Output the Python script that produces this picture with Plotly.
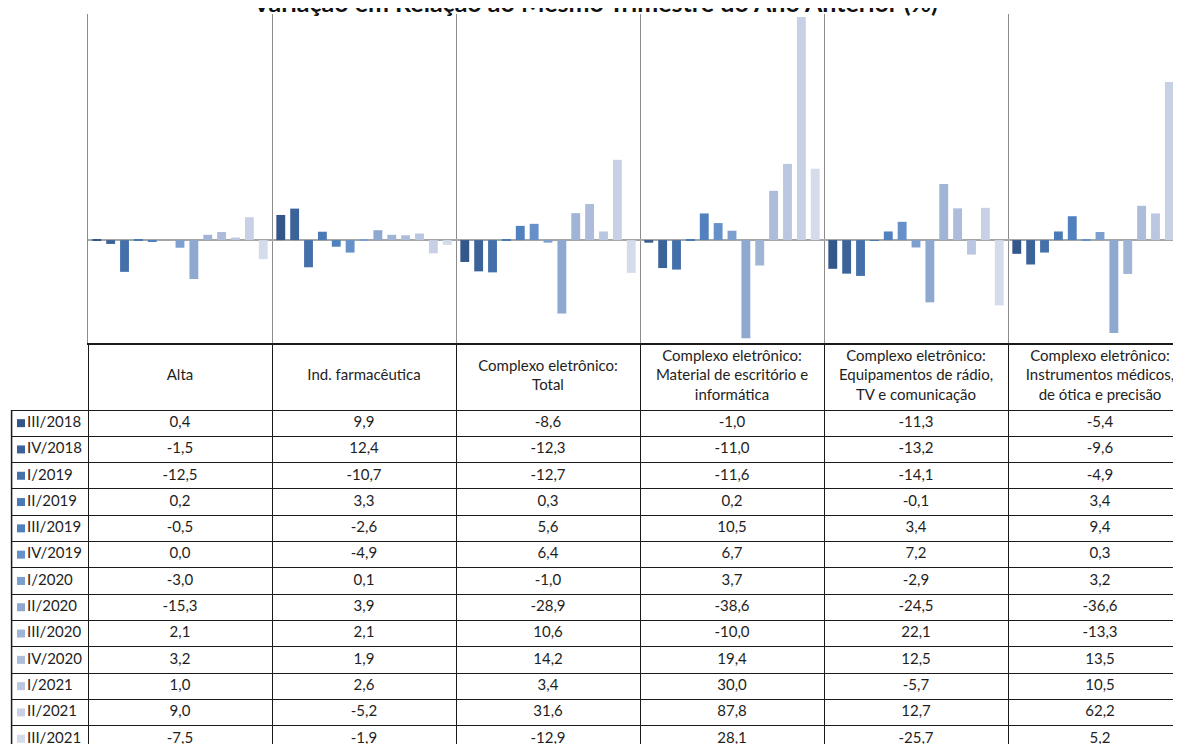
import plotly.graph_objects as go

# categorias (colunas da tabela)
setores = ['Alta', 'Ind. farmacêutica', 'Complexo eletrônico:<br>Total',
           'Complexo eletrônico:<br>Material de escritório e<br>informática',
           'Complexo eletrônico:<br>Equipamentos de rádio,<br>TV e comunicação',
           'Complexo eletrônico:<br>Instrumentos médicos,<br>de ótica e precisão']

trimestres = ['III/2018', 'IV/2018', 'I/2019', 'II/2019', 'III/2019', 'IV/2019',
              'I/2020', 'II/2020', 'III/2020', 'IV/2020', 'I/2021', 'II/2021', 'III/2021']

# variação (%) por trimestre, uma lista por linha da tabela
v_III_2018 = [0.4, 9.9, -8.6, -1.0, -11.3, -5.4]
v_IV_2018 = [-1.5, 12.4, -12.3, -11.0, -13.2, -9.6]
v_I_2019 = [-12.5, -10.7, -12.7, -11.6, -14.1, -4.9]
v_II_2019 = [0.2, 3.3, 0.3, 0.2, -0.1, 3.4]
v_III_2019 = [-0.5, -2.6, 5.6, 10.5, 3.4, 9.4]
v_IV_2019 = [0.0, -4.9, 6.4, 6.7, 7.2, 0.3]
v_I_2020 = [-3.0, 0.1, -1.0, 3.7, -2.9, 3.2]
v_II_2020 = [-15.3, 3.9, -28.9, -38.6, -24.5, -36.6]
v_III_2020 = [2.1, 2.1, 10.6, -10.0, 22.1, -13.3]
v_IV_2020 = [3.2, 1.9, 14.2, 19.4, 12.5, 13.5]
v_I_2021 = [1.0, 2.6, 3.4, 30.0, -5.7, 10.5]
v_II_2021 = [9.0, -5.2, 31.6, 87.8, 12.7, 62.2]
v_III_2021 = [-7.5, -1.9, -12.9, 28.1, -25.7, 5.2]

valores = [v_III_2018, v_IV_2018, v_I_2019, v_II_2019, v_III_2019, v_IV_2019,
           v_I_2020, v_II_2020, v_III_2020, v_IV_2020, v_I_2021, v_II_2021, v_III_2021]

cores = ['#34578a', '#3b6399', '#4571ab', '#4a7ab6', '#5080bd', '#6690c8',
         '#7c9fcf', '#8da9d0', '#a0b4d6', '#aebcdb', '#bbc6e0', '#c7d0e5', '#d4dbea']

W, H = 1181, 744
OFF = 8            # margem padrão do <body> na página
X_PLOT = 88 - OFF  # borda esquerda da área do gráfico (px)
X_TAB = 11 - OFF   # borda esquerda da coluna de legenda (px)
COL = 184          # largura de cada coluna (px)
Y_TOP, Y_MID = 14 - OFF, 343 - OFF   # topo do gráfico, topo da tabela (px)
HDR, ROW = 67, 26.3      # altura do cabeçalho e das linhas (px)

fonte = 'Lato'
fs = 15
x_max = -0.5 + (W - X_PLOT) / COL
x_min_tab = -0.5 - (X_PLOT - X_TAB) / COL
y_hdr = -0.5 - HDR / ROW
y_bot = -0.5 + (H - Y_MID - HDR) / ROW
x_leg = -0.5 - (X_PLOT - (21 - OFF)) / COL

fig = go.Figure()

cat_idx = list(range(len(setores)))
for nome, vals, cor in zip(trimestres, valores, cores):
    fig.add_trace(go.Bar(x=cat_idx, y=vals, name=nome, marker_color=cor,
                         marker_line_width=0, showlegend=False,
                         xaxis='x', yaxis='y', hoverinfo='skip'))

# tabela: valores
tx, ty, tt = [], [], []
for i, vals in enumerate(valores):
    for j, v in enumerate(vals):
        tx.append(j)
        ty.append(i)
        tt.append(f'{v:.1f}'.replace('.', ','))
fig.add_trace(go.Scatter(x=tx, y=ty, text=tt, mode='text', xaxis='x2', yaxis='y2',
                         textfont=dict(family=fonte, size=fs, color='#1e1e1e'),
                         showlegend=False, hoverinfo='skip'))

# tabela: cabeçalho
fig.add_trace(go.Scatter(x=cat_idx, y=[(y_hdr - 0.5) / 2] * len(setores), text=setores,
                         mode='text', xaxis='x2', yaxis='y2',
                         textfont=dict(family=fonte, size=fs, color='#1e1e1e'),
                         showlegend=False, hoverinfo='skip'))

# tabela: chave da legenda
fig.add_trace(go.Scatter(x=[x_leg] * len(trimestres), y=list(range(len(trimestres))),
                         text=trimestres, mode='markers+text', textposition='middle right',
                         marker=dict(symbol='square', size=8, color=cores),
                         textfont=dict(family=fonte, size=fs, color='#1e1e1e'),
                         xaxis='x2', yaxis='y2', showlegend=False, hoverinfo='skip'))

fig.update_layout(
    width=W, height=H,
    margin=dict(l=0, r=0, t=0, b=0),
    paper_bgcolor='rgba(0,0,0,0)', plot_bgcolor='rgba(0,0,0,0)',
    barmode='group', bargap=0.02, bargroupgap=0.36,
    xaxis=dict(domain=[X_PLOT / W, 1], range=[-0.5, x_max],
               tickvals=[k + 0.5 for k in cat_idx], showticklabels=False, ticks='',
               showgrid=True, gridcolor='#8c8c8c', gridwidth=1,
               showline=True, linecolor='#1a1a1a', linewidth=1.5, zeroline=False,
               anchor='y'),
    yaxis=dict(domain=[(H - Y_MID) / H, (H - Y_TOP) / H], range=[-40.5, 89],
               showgrid=False, showticklabels=False, ticks='',
               zeroline=True, zerolinecolor='#a6a6a6', zerolinewidth=1.5,
               showline=True, linecolor='#8c8c8c', linewidth=1.2, anchor='x'),
    xaxis2=dict(domain=[X_TAB / W, 1], range=[x_min_tab, x_max],
                tickvals=[k - 0.5 for k in cat_idx] + [len(setores) - 0.5],
                showticklabels=False, ticks='', showgrid=True, gridcolor='#1a1a1a',
                gridwidth=1, zeroline=False, anchor='y2'),
    yaxis2=dict(domain=[0, (H - Y_MID) / H], range=[y_bot, y_hdr],
                tickvals=[k - 0.5 for k in range(len(trimestres) + 1)],
                showticklabels=False, ticks='', showgrid=True, gridcolor='#1a1a1a',
                gridwidth=1, zeroline=False, anchor='x2'),
    shapes=[dict(type='line', xref='x2 domain', yref='y2', x0=0.0005, x1=0.0005,
                 y0=-0.5, y1=y_bot, line=dict(color='#1a1a1a', width=1.5))],
    annotations=[dict(text='<b>Variação em Relação ao Mesmo Trimestre do Ano Anterior (%)</b>',
                      xref='paper', yref='paper', x=(595 - OFF) / W, y=1, yanchor='middle',
                      yshift=6, showarrow=False,
                      font=dict(family=fonte, size=25, color='#111'))],
)

fig.write_html('out.html')
